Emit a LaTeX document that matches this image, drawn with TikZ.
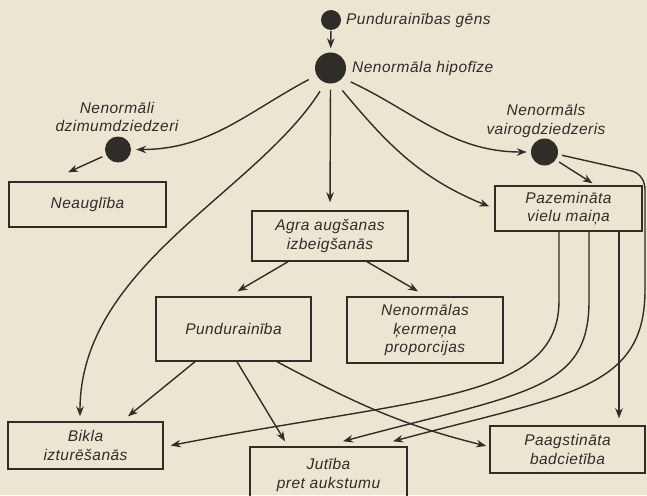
\documentclass[tikz,border=0pt]{standalone}
\usepackage{fontspec}
\setmainfont[LetterSpace=3]{Liberation Sans}
\usetikzlibrary{arrows.meta}
\definecolor{paper}{RGB}{236,229,210}
\definecolor{inkc}{RGB}{48,44,40}
\newcommand{\lab}{\fontsize{15.5}{18.5}\selectfont\itshape}
\tikzset{
  ink/.style={draw=inkc, line width=1.4pt},
  box/.style={ink, rectangle, inner sep=0pt, align=center, font=\lab, text=inkc},
  dot/.style={circle, fill=inkc, inner sep=0pt},
  caption/.style={font=\lab, text=inkc, align=center, inner sep=0pt},
  arr/.style={ink, -{Stealth[length=10pt,width=7.5pt]}},
}
\begin{document}
\begin{tikzpicture}[x=1pt,y=1pt]
\useasboundingbox (0,0) rectangle (647,-495);
\fill[paper] (0,0) rectangle (647,-495);
\clip (0,0) rectangle (647,-495);

% causal chain: gene and glands
\node[dot, minimum size=20pt] (gene) at (331,-20) {};
\node[caption, anchor=west] (genel) at (346,-20) {Pundurainības gēns};
\node[dot, minimum size=31pt] (hipo) at (330.5,-68) {};
\node[caption, anchor=west] (hipol) at (352,-68) {Nenormāla hipofīze};
\node[dot, minimum size=26pt] (dzim) at (118,-149.5) {};
\node[caption] (dziml) at (117,-117) {Nenormāli\\dzimumdziedzeri};
\node[dot, minimum size=27pt] (vair) at (544.5,-152) {};
\node[caption] (vairl) at (546,-121) {Nenormāls\\vairogdziedzeris};

% effects
\node[box, minimum width=157pt, minimum height=45pt] (neaug) at (87.5,-204.5) {Neauglība};
\node[box, minimum width=156pt, minimum height=50pt] (agra) at (330,-236) {Agra augšanas\\izbeigšanās};
\node[box, minimum width=147pt, minimum height=45pt] (paz) at (568.5,-208.5) {Pazemināta\\vielu maiņa};
\node[box, minimum width=155pt, minimum height=64pt] (pund) at (233.5,-329) {Pundurainība};
\node[box, minimum width=156pt, minimum height=66pt] (nenk) at (425,-330) {Nenormālas\\ķermeņa\\proporcijas};
\node[box, minimum width=155pt, minimum height=47pt] (bikla) at (85.5,-445.5) {Bikla\\izturēšanās};
\node[box, minimum width=157pt, minimum height=56pt] (jut) at (328.5,-475) {Jutība\\pret aukstumu};
\node[box, minimum width=155pt, minimum height=47pt] (paag) at (567.5,-449.5) {Paagstināta\\badcietība};

% way points of the long connectors
\coordinate (v1) at (632,-171);
\coordinate (v2) at (645,-190);
\coordinate (v3) at (645,-290);

% from the gene and the pituitary
\draw[arr, shorten <=1pt, shorten >=4pt] (gene) -- (hipo);
\draw[arr, shorten <=9pt, shorten >=5pt] (hipo.208) to[out=208,in=0] (dzim.east);
\draw[arr, shorten <=6pt, shorten >=8pt] (hipo.south) -- (agra.north);
\draw[arr, shorten <=10pt] (hipo.251) .. controls +(-70,-110) and +(0,150) .. ([xshift=-5.5pt,yshift=5pt]bikla.north);
\draw[arr, shorten <=10pt] (hipo.290) to[out=-50,in=158] ([xshift=-5pt,yshift=2pt]paz.west);
\draw[arr, shorten <=9pt, shorten >=4pt] (hipo.320) to[out=-25,in=180] (vair.west);

% from the glands
\draw[arr, shorten <=4pt] (dzim.205) -- ([xshift=-19.5pt,yshift=9pt]neaug.north);
\draw[arr, shorten <=4pt] (vair.-35) -- ([xshift=24pt,yshift=2pt]paz.north);
\draw[ink, shorten <=4pt] (vair.-10) -- (v1) to[out=-17,in=90] (v2) -- (v3);
\draw[arr] (v3) to[out=-90,in=15,out distance=100pt,in distance=180pt] ([xshift=64.5pt,yshift=5pt]jut.north);

% from the lowered metabolism
\draw[arr] ([xshift=-9.5pt]paz.south) -- ++(0,-69) to[out=-90,in=11,out distance=100pt,in distance=255pt] ([xshift=7pt]bikla.east);
\draw[arr] ([xshift=20.5pt]paz.south) -- ++(0,-69) to[out=-90,in=15,out distance=90pt,in distance=190pt] ([xshift=14.5pt,yshift=5pt]jut.north);
\draw[arr, shorten >=7pt] ([xshift=50.5pt]paz.south) -- ([xshift=51.5pt]paag.north);

% from the arrested growth
\draw[arr] ([xshift=-42pt]agra.south) -- ([xshift=4pt,yshift=5pt]pund.north);
\draw[arr] ([xshift=37pt]agra.south) -- ([xshift=-7pt,yshift=5pt]nenk.north);

% from dwarfism
\draw[arr] ([xshift=-38.5pt]pund.south) -- ([xshift=42.5pt,yshift=5pt]bikla.north);
\draw[arr] ([xshift=3.5pt]pund.south) -- ([xshift=-43.5pt,yshift=5pt]jut.north);
\draw[arr] ([xshift=43.5pt]pund.south) to[out=-28,in=166] ([xshift=-3pt,yshift=3.5pt]paag.west);
\end{tikzpicture}
\end{document}
